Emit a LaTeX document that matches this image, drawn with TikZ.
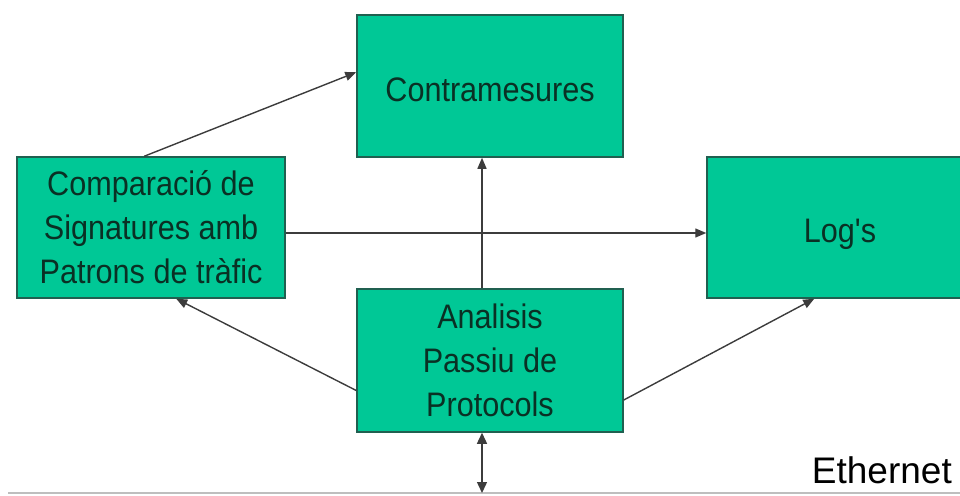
\documentclass[tikz,border=0pt]{standalone}
\usepackage{fontspec}
\setmainfont{Liberation Sans}
\newfontfamily\boxfont[FakeStretch=0.9]{Liberation Sans}
\usetikzlibrary{arrows.meta}
\definecolor{boxfill}{RGB}{0,200,150}
\definecolor{boxline}{RGB}{32,96,80}
\definecolor{boxtext}{RGB}{10,48,36}
\definecolor{linkgray}{RGB}{60,60,60}
\definecolor{busgray}{RGB}{190,190,190}
\tikzset{
  block/.style={draw=boxline, line width=1.5pt, fill=boxfill, inner sep=0pt,
    minimum width=266pt, minimum height=142pt, align=center, text=boxtext,
    font=\boxfont\fontsize{34}{44}\selectfont},
  oneline/.style={text height=30pt, text depth=0pt},
  link/.style={draw=linkgray, line width=1.4pt,
    -{Triangle[length=11pt,width=9pt]}},
  duplex/.style={draw=linkgray, line width=1.4pt,
    {Triangle[length=11pt,width=10pt]}-{Triangle[length=11pt,width=10pt]}},
  bus/.style={draw=busgray, line width=1.5pt}
}
\begin{document}
\begin{tikzpicture}[x=1pt, y=-1pt]
\clip (0,0) rectangle (960,495);
\useasboundingbox (0,0) rectangle (960,495);

% boxes
\node[block, oneline] (cm)  at (490,86) {Contramesures};
\node[block, minimum width=268pt, minimum height=141pt] (cmp) at (151,227.5)
  {Comparació de\\Signatures amb\\Patrons de tràfic};
\node[block, oneline, minimum height=141pt] (log) at (840,227.5) {Log's};
\node[block, minimum height=143pt] (an)  at (490,360.5)
  {Analisis\\Passiu de\\Protocols};

% Ethernet segment
\coordinate (ethL) at (8,493);
\coordinate (ethR) at (960,493);
\coordinate (tap)  at (482,493);
\draw[bus] (ethL) -- (ethR);
\node[anchor=base east, inner sep=0pt, font=\fontsize{37}{40}\selectfont, text=black]
  (ethlabel) at (952,483) {Ethernet};

% connectors
\draw[link] ([xshift=128pt]cmp.north west) -- ([yshift=-58pt]cm.north west);
\draw[link] ([xshift=-8pt]an.north) -- ([xshift=-8pt]cm.south);
\draw[link] ([yshift=-5.5pt]cmp.east) -- ([yshift=-5.5pt]log.west);
\draw[link] ([yshift=-30pt]an.west) -- ([xshift=160pt]cmp.south west);
\draw[link] ([yshift=-39.5pt]an.east) -- ([xshift=108pt]log.south west);
\draw[duplex] ([xshift=-8pt]an.south) -- (tap);
\end{tikzpicture}
\end{document}
